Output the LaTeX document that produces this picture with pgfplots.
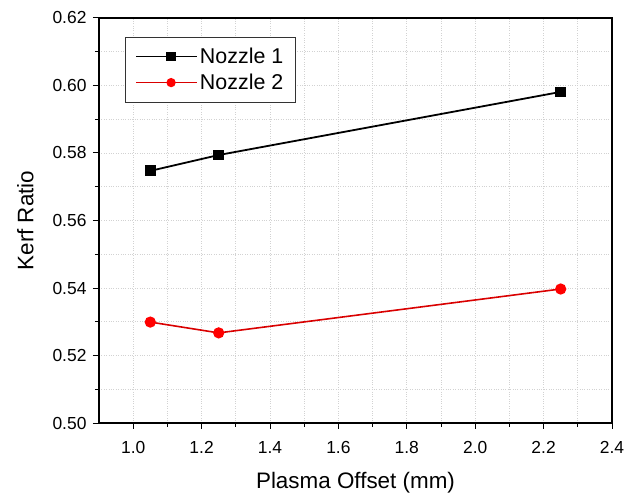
\documentclass[border=0pt]{standalone}
\usepackage{pgfplots}
\pgfplotsset{compat=1.18}
\usepackage{fontspec}
\setmainfont{Liberation Sans}
\begin{document}
\begin{tikzpicture}
\useasboundingbox (0,0) rectangle (636bp,494bp);
\begin{axis}[
  at={(99bp,71bp)}, anchor=south west,
  scale only axis,
  width=513bp, height=405bp,
  xmin=0.9, xmax=2.4, ymin=0.50, ymax=0.62,
  xtick={1.0,1.2,...,2.4},
  ytick={0.50,0.52,...,0.62},
  minor x tick num=1, minor y tick num=1,
  xticklabel style={yshift=-9bp, /pgf/number format/.cd,fixed,fixed zerofill,precision=1},
  yticklabel style={xshift=-3bp, /pgf/number format/.cd,fixed,fixed zerofill,precision=2},
  /pgf/number format/assume math mode=true,
  tick label style={font=\fontsize{17.5}{19}\selectfont},
  label style={font=\fontsize{22.5}{25}\selectfont},
  xlabel={Plasma Offset (mm)},
  ylabel={Kerf Ratio},
  xlabel style={yshift=-12bp},
  ylabel style={yshift=12bp},
  axis line style={line width=1.3pt},
  tick style={line width=1pt, black},
  tick align=outside,
  xtick pos=bottom, ytick pos=left,
  major tick length=6bp, minor tick length=4bp,
  grid=both,
  major grid style={gray!35, dotted, line width=0.7pt},
  minor grid style={gray!35, dotted, line width=0.7pt},
  legend style={at={(axis cs:0.976,0.6144)}, anchor=north west,
    font=\fontsize{21.5}{24}\selectfont, draw=black!80,
    inner xsep=10bp, inner ysep=9bp, row sep=5bp},
  legend cell align=left,
  legend image code/.code={
    \path (0bp,0bp) -- (61bp,0bp);
    \draw[#1] (9bp,0bp) -- (61bp,0bp);
    \draw[#1, only marks, mark size=3.8bp] plot coordinates {(35bp,0bp)};
  },
]
\addplot[black, line width=1.8pt, mark=square*, mark size=4.5bp, mark options={solid}]
  coordinates {(1.05,0.5747) (1.25,0.5794) (2.25,0.5981)};
\addlegendentry{Nozzle 1}
\addplot[red!85!black, line width=1.6pt, mark=*, mark size=4.8bp, mark options={solid, fill=red, draw=red}]
  coordinates {(1.05,0.5299) (1.25,0.5267) (2.25,0.5397)};
\addlegendentry{Nozzle 2}
\end{axis}
\end{tikzpicture}
\end{document}
